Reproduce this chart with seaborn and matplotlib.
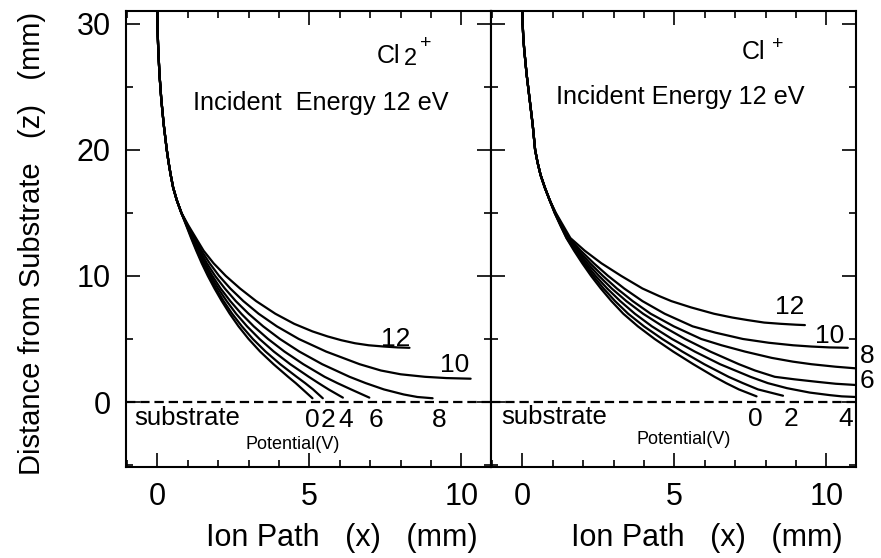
import numpy as np
import pandas as pd
import matplotlib
matplotlib.use("Agg")
import matplotlib.pyplot as plt
from matplotlib.ticker import MultipleLocator
import seaborn as sns

# ---------------- data ----------------
potentials = [0, 2, 4, 6, 8, 10, 12]

# Cl2+ panel: shared upper part of all trajectories
cl2_upper_x = [0.0, 0.005, 0.015, 0.03, 0.05, 0.07, 0.10, 0.13, 0.17, 0.21,
               0.26, 0.31, 0.37, 0.44, 0.52, 0.64, 0.79]
cl2_upper_z = [31, 30, 29, 28, 27, 26, 25, 24, 23, 22,
               21, 20, 19, 18, 17, 16, 15]
cl2_x = {
    0: [0.95, 1.11, 1.28, 1.46, 1.66, 1.88, 2.12, 2.38, 2.67, 3.00, 3.38, 3.82, 4.30,
        4.55, 4.78, 5.10],
    2: [0.96, 1.13, 1.30, 1.49, 1.70, 1.93, 2.18, 2.46, 2.78, 3.14, 3.56, 4.04, 4.58,
        4.86, 5.12, 5.44],
    4: [0.97, 1.15, 1.33, 1.53, 1.75, 2.00, 2.28, 2.59, 2.95, 3.36, 3.83, 4.37, 4.98,
        5.30, 5.63, 6.10],
    6: [0.98, 1.17, 1.36, 1.57, 1.81, 2.08, 2.40, 2.76, 3.17, 3.64, 4.18, 4.80, 5.50,
        5.92, 6.37, 6.97],
    8: [0.99, 1.20, 1.40, 1.63, 1.90, 2.22, 2.58, 3.00, 3.48, 4.03, 4.67, 5.42, 6.32,
        6.85, 7.45, 8.10, 8.55, 9.05],
    10: [1.00, 1.23, 1.45, 1.72, 2.03, 2.40, 2.83, 3.33, 3.93, 4.65, 5.55, 6.65, 7.35,
         8.00, 8.80, 9.50, 10.30],
    12: [1.02, 1.27, 1.52, 1.85, 2.25, 2.72, 3.25, 3.88, 4.50, 5.10, 5.60, 6.05, 6.50,
         6.95, 7.45, 7.90, 8.29],
}
cl2_z = {
    0: [14, 13, 12, 11, 10, 9, 8, 7, 6, 5, 4, 3, 2, 1.5, 1, 0.3],
    2: [14, 13, 12, 11, 10, 9, 8, 7, 6, 5, 4, 3, 2, 1.5, 1, 0.3],
    4: [14, 13, 12, 11, 10, 9, 8, 7, 6, 5, 4, 3, 2, 1.5, 1, 0.35],
    6: [14, 13, 12, 11, 10, 9, 8, 7, 6, 5, 4, 3, 2, 1.5, 1, 0.35],
    8: [14, 13, 12, 11, 10, 9, 8, 7, 6, 5, 4, 3, 2, 1.5, 1, 0.6, 0.4, 0.3],
    10: [14, 13, 12, 11, 10, 9, 8, 7, 6, 5, 4, 3, 2.5, 2.2, 2.0, 1.9, 1.85],
    12: [14, 13, 12, 11, 10, 9, 8, 7, 6.2, 5.6, 5.2, 4.9, 4.66, 4.5, 4.4, 4.33, 4.3],
}

# Cl+ panel
cl_upper_x = [0.0, 0.01, 0.03, 0.06, 0.10, 0.14, 0.19, 0.24, 0.29, 0.34,
              0.38, 0.42, 0.50, 0.60, 0.74, 0.90]
cl_upper_z = [31, 30, 29, 28, 27, 26, 25, 24, 23, 22,
              21, 20, 19, 18, 17, 16]
cl_x = {
    0: [1.06, 1.25, 1.45, 1.70, 1.97, 2.26, 2.58, 2.93, 3.32, 3.80, 4.35, 4.96, 5.62,
        6.32, 6.70, 7.12, 7.70],
    2: [1.065, 1.26, 1.46, 1.73, 2.02, 2.33, 2.67, 3.05, 3.48, 4.00, 4.60, 5.26, 5.98,
        6.78, 7.25, 7.75, 8.57],
    4: [1.07, 1.27, 1.47, 1.76, 2.07, 2.41, 2.79, 3.22, 3.70, 4.26, 4.92, 5.67, 6.50,
        7.50, 8.07, 8.70, 9.45, 10.10, 10.50, 10.97],
    6: [1.075, 1.28, 1.48, 1.80, 2.14, 2.52, 2.94, 3.42, 3.97, 4.62, 5.35, 6.18, 7.12,
        7.65, 8.30, 8.95, 9.70, 10.30, 10.97],
    8: [1.08, 1.29, 1.50, 1.85, 2.23, 2.65, 3.11, 3.63, 4.22, 4.98, 5.88, 6.55, 7.32,
        8.20, 8.90, 9.50, 10.30, 10.97],
    10: [1.09, 1.31, 1.53, 1.92, 2.35, 2.82, 3.35, 3.95, 4.68, 5.60, 6.35, 7.25, 8.10,
         8.90, 9.50, 10.10, 10.70],
    12: [1.10, 1.34, 1.58, 2.05, 2.60, 3.25, 3.95, 4.50, 4.90, 5.55, 6.30, 6.90, 7.40,
         7.95, 8.50, 9.00, 9.29],
}
cl_z = {
    0: [15, 14, 13, 12, 11, 10, 9, 8, 7, 6, 5, 4, 3, 2, 1.5, 1, 0.45],
    2: [15, 14, 13, 12, 11, 10, 9, 8, 7, 6, 5, 4, 3, 2, 1.5, 1, 0.5],
    4: [15, 14, 13, 12, 11, 10, 9, 8, 7, 6, 5, 4, 3, 2, 1.5, 1.1, 0.75, 0.55, 0.45, 0.4],
    6: [15, 14, 13, 12, 11, 10, 9, 8, 7, 6, 5, 4, 3, 2.5, 2, 1.8, 1.6, 1.45, 1.35],
    8: [15, 14, 13, 12, 11, 10, 9, 8, 7, 6, 5, 4.5, 4, 3.5, 3.2, 3.0, 2.8, 2.67],
    10: [15, 14, 13, 12, 11, 10, 9, 8, 7, 6, 5.5, 5.0, 4.7, 4.5, 4.4, 4.33, 4.3],
    12: [15, 14, 13, 12, 11, 10, 9, 8.4, 8, 7.5, 7.0, 6.7, 6.5, 6.3, 6.2, 6.13, 6.1],
}

x_ticks = [0, 5, 10]
y_ticks = [0, 10, 20, 30]
substrate_x = [-1.03, 10.97]
substrate_z = [0, 0]


def build_frame(upper_x, upper_z, xs, zs):
    rows = []
    for v in potentials:
        for xv, zv in zip(upper_x + xs[v], upper_z + zs[v]):
            rows.append({"V": v, "x": xv, "z": zv})
    return pd.DataFrame(rows)


df_cl2 = build_frame(cl2_upper_x, cl2_upper_z, cl2_x, cl2_z)
df_cl = build_frame(cl_upper_x, cl_upper_z, cl_x, cl_z)

# ---------------- style ----------------
sns.set_theme(style="ticks")
plt.rcParams["font.family"] = ["Liberation Sans", "DejaVu Sans"]
for key in ("text.color", "axes.labelcolor", "xtick.color", "ytick.color",
            "axes.edgecolor"):
    plt.rcParams[key] = "black"

W, H = 881, 558
fig = plt.figure(figsize=(W / 100, H / 100), dpi=100)
fig.patch.set_facecolor("white")
ax1 = fig.add_axes([126 / W, 1 - 467 / H, 365 / W, 456 / H])
ax2 = fig.add_axes([491 / W, 1 - 467 / H, 365 / W, 456 / H])

for ax, df in ((ax1, df_cl2), (ax2, df_cl)):
    sns.lineplot(data=df, x="x", y="z", units="V", estimator=None, sort=False,
                 color="black", linewidth=1.6, ax=ax, legend=False)
    ax.plot(substrate_x, substrate_z, color="black", linewidth=1.6,
            linestyle=(0, (4.2, 2.2)))
    ax.set_xlim(-1.03, 10.97)
    ax.set_ylim(-5.15, 31.0)
    ax.xaxis.set_major_locator(MultipleLocator(5))
    ax.xaxis.set_minor_locator(MultipleLocator(1))
    ax.yaxis.set_major_locator(MultipleLocator(10))
    ax.yaxis.set_minor_locator(MultipleLocator(5))
    ax.set_xticks(x_ticks)
    ax.tick_params(which="both", direction="in", top=True, right=True,
                   width=1.2, colors="black")
    ax.tick_params(which="major", length=10, labelsize=22, pad=11)
    ax.tick_params(which="minor", length=5)
    for s in ax.spines.values():
        s.set_linewidth(1.5)
        s.set_color("black")
    ax.set_facecolor("white")
    ax.set_xlabel("Ion Path   (x)   (mm)", fontsize=22, color="black")
    ax.xaxis.set_label_coords(0.59, -0.156)
    ax.xaxis.label.set_va("center")

ax1.set_yticks(y_ticks)
ax1.set_ylabel("Distance from Substrate   (z)   (mm)", fontsize=21, color="black")
ax1.yaxis.set_label_coords(-0.258, 0.49)
ax1.yaxis.label.set_va("center")
ax2.set_yticks(y_ticks)
ax2.tick_params(labelleft=False)
ax2.set_ylabel("")

kw = dict(color="black", ha="center", va="center")
# ---------------- annotations: Cl2+ panel ----------------
ax1.text(7.2, 27.45, "Cl", fontsize=18, color="black", ha="left", va="center")
ax1.text(8.12, 27.2, "2", fontsize=17, color="black", ha="left", va="center")
ax1.text(8.82, 28.4, "+", fontsize=14, **kw)
ax1.text(5.36, 23.7, "Incident  Energy 12 eV", fontsize=18.2, **kw)
ax1.text(7.83, 5.0, "12", fontsize=19, **kw)
ax1.text(9.77, 2.9, "10", fontsize=19, **kw)
ax1.text(-0.76, -1.27, "substrate", fontsize=18.5, color="black", ha="left", va="center")
for lab, xp in zip(["0", "2", "4", "6", "8"], [5.1, 5.6, 6.2, 7.19, 9.28]):
    ax1.text(xp, -1.43, lab, fontsize=19, **kw)
ax1.text(4.46, -3.37, "Potential(V)", fontsize=13, **kw)

# ---------------- annotations: Cl+ panel ----------------
ax2.text(7.21, 27.74, "Cl", fontsize=18, color="black", ha="left", va="center")
ax2.text(8.4, 28.33, "+", fontsize=14, **kw)
ax2.text(5.21, 24.2, "Incident Energy 12 eV", fontsize=18.2, **kw)
ax2.text(8.8, 7.5, "12", fontsize=19, **kw)
ax2.text(10.1, 5.2, "10", fontsize=19, **kw)
ax2.text(11.33, 3.65, "8", fontsize=19, clip_on=False, **kw)
ax2.text(11.33, 1.67, "6", fontsize=19, clip_on=False, **kw)
ax2.text(10.64, -1.35, "4", fontsize=19, **kw)
ax2.text(7.67, -1.35, "0", fontsize=19, **kw)
ax2.text(8.82, -1.35, "2", fontsize=19, **kw)
ax2.text(-0.68, -1.2, "substrate", fontsize=18.5, color="black", ha="left", va="center")
ax2.text(5.29, -2.98, "Potential(V)", fontsize=13, **kw)

fig.savefig("out.png", dpi=100, facecolor="white")
